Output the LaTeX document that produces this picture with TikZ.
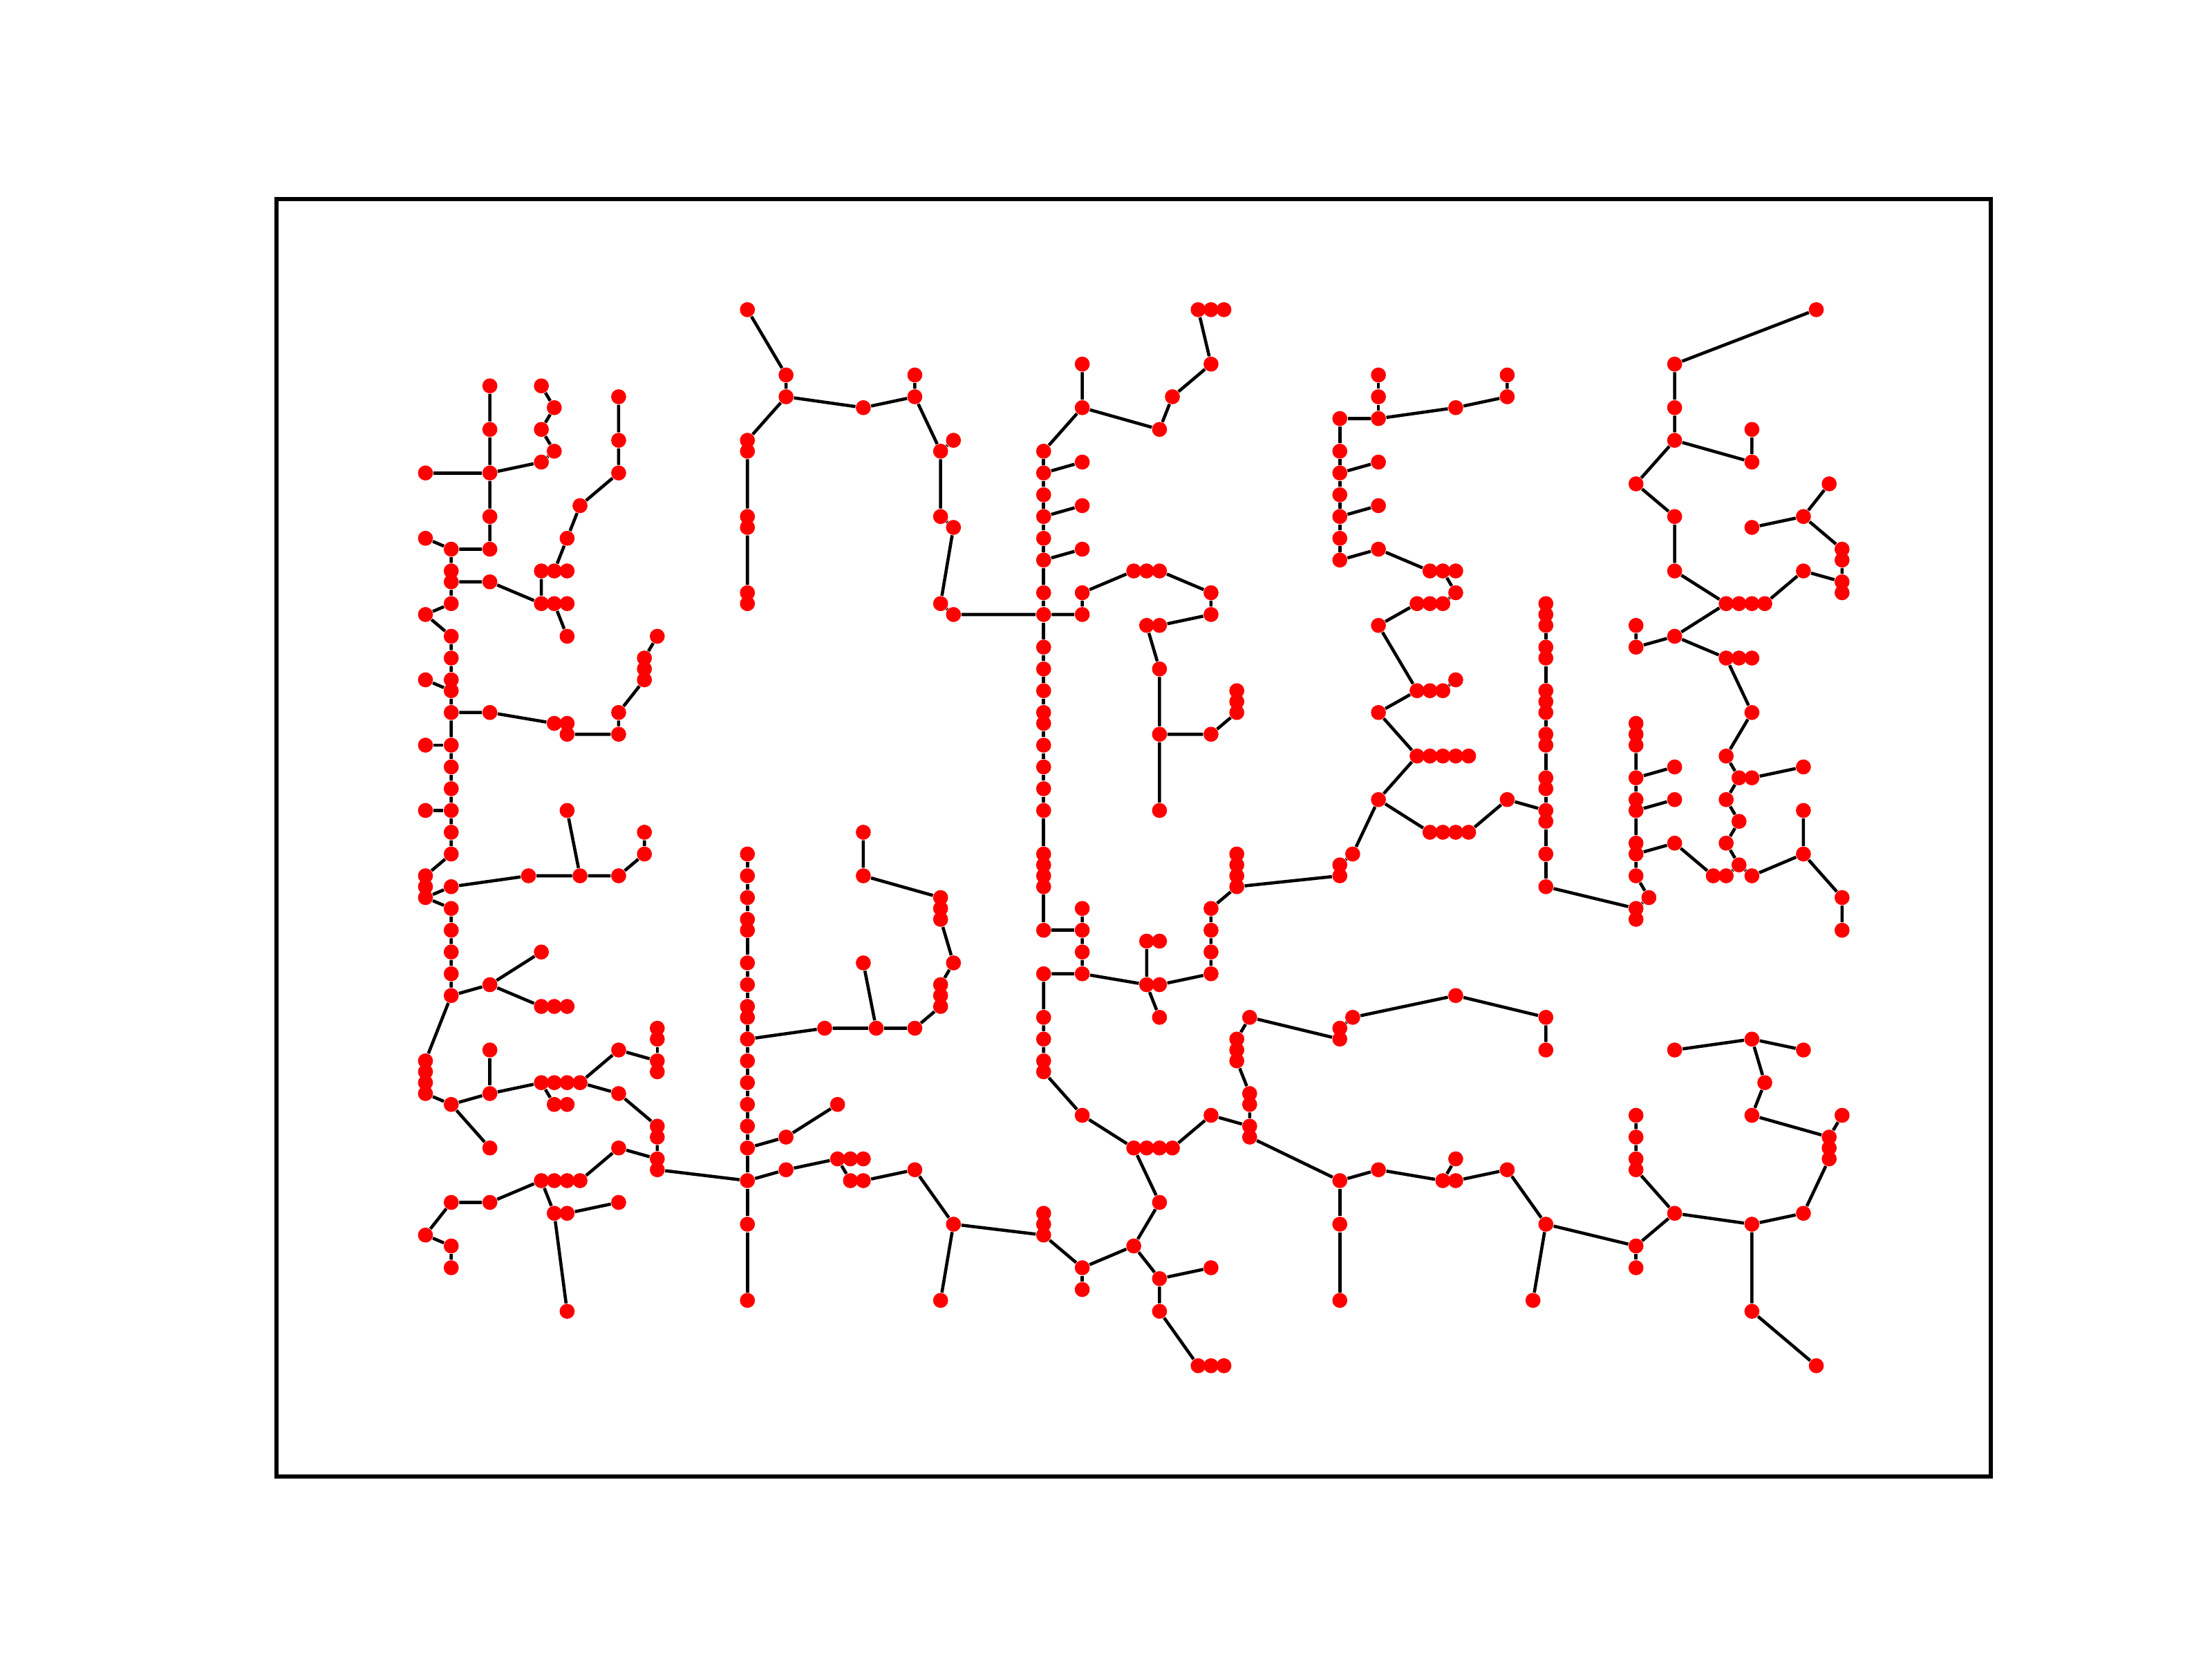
\documentclass[tikz,border=0pt]{standalone}
\usetikzlibrary{backgrounds}

\begin{document}
\begin{tikzpicture}[
    dot/.style={circle, fill=red, inner sep=0pt, minimum size=2.17mm},
    link/.style={line width=1.3pt, black},
    frame/.style={line width=1.6pt, black}
  ]
  \useasboundingbox (0,0) rectangle (32,-24);
  \draw[frame] (4,-2.88) rectangle (28.8,-21.36);

  \begin{scope}[shift={(6.155,-4.48)}, x=1.863mm, y=-1.575mm]
    % NODES (lattice column/row)
    % upper left
    \foreach \i/\j in {5/7,5/11,5/15,0/15,5/19,5/22,2/22,0/21,2/24,2/25,5/25,2/27,0/28,2/30,
        9/7,10/9,9/11,10/13,9/14,15/8,15/12,15/15,12/18,11/21,9/24,10/24,11/24,
        9/27,10/27,11/27,11/30,18/30,17/32,17/33,17/34}
      \node[dot] (p\i-\j) at (\i,\j) {};
    % middle left
    \foreach \i/\j in {2/32,0/34,2/34,2/35,2/37,5/37,10/38,11/38,11/39,15/39,15/37,0/40,2/40,
        2/42,2/44,0/46,2/46,2/48,2/50,0/52,0/53,0/54,2/53,8/52,12/52,11/46,15/52,17/50,17/48,
        2/55,2/57,2/59,2/61,2/63,5/62,9/59,9/64,10/64,11/64}
      \node[dot] (p\i-\j) at (\i,\j) {};
    % lower left
    \foreach \i/\j in {0/69,0/70,0/71,0/72,2/73,5/72,5/68,5/77,9/71,10/71,11/71,12/71,10/73,
        11/73,15/68,18/66,18/67,18/69,18/70,15/72,18/75,18/76,15/77,18/78,18/79,9/80,10/80,
        11/80,12/80,2/82,5/82,0/85,2/86,2/88,10/83,11/83,15/82,11/92}
      \node[dot] (p\i-\j) at (\i,\j) {};
    % column 25
    \foreach \j in {0,12,13,19,20,26,27,50,52,54,56,57,60,62,64,65,67,69,71,73,75,77,80,84,91}
      \node[dot] (p25-\j) at (25,\j) {};
    % column 48
    \foreach \j in {13,15,17,19,21,23,26,28,31,33,35,37,38,40,42,44,46,50,51,52,53,57,61,65,
        67,69,70,83,84,85}
      \node[dot] (p48-\j) at (48,\j) {};
    % upper centre
    \foreach \i/\j in {28/6,28/8,34/9,38/6,38/8,40/13,41/12,40/19,41/20,40/27,41/28,
        51/5,51/9,51/14,51/18,51/22,51/26,51/28,55/24,56/24,57/24,61/26,61/28,56/29,57/29,
        57/11,58/8,61/5,60/0,61/0,62/0}
      \node[dot] (p\i-\j) at (\i,\j) {};
    % centre
    \foreach \i/\j in {34/48,34/52,40/54,40/55,40/56,41/60,40/62,40/63,40/64,34/60,31/66,35/66,
        38/66,51/55,51/57,51/59,51/61,56/58,57/58,56/62,57/62,57/65,
        57/33,57/39,57/46,61/39,63/35,63/36,63/37,63/50,63/51,63/52,63/53,61/55,61/57,61/59,
        61/61,71/51,71/52,72/50,74/45,78/48,79/48,80/48,81/48,84/45,74/37,77/35,78/35,79/35,
        80/34,77/41,78/41,79/41,80/41,81/41}
      \node[dot] (p\i-\j) at (\i,\j) {};
    % lower centre
    \foreach \i/\j in {28/76,28/79,32/73,32/78,33/78,34/78,33/80,34/80,38/79,41/84,40/91,51/74,
        51/88,51/90,55/86,55/77,56/77,57/77,58/77,57/82,57/89,61/88,57/92,60/97,61/97,62/97,
        61/74,63/67,63/68,63/69,64/65,64/72,64/73,64/75,64/76,71/80,74/79,79/80,80/80,80/78,
        71/84,71/91,71/66,71/67,72/65,80/63}
      \node[dot] (p\i-\j) at (\i,\j) {};
    % upper right
    \foreach \i/\j in {71/10,74/10,74/8,74/6,80/9,84/8,84/6,71/13,71/15,71/17,71/19,71/21,71/23,
        74/14,74/18,74/22,78/24,79/24,80/24,80/26,77/27,78/27,79/27,74/29,
        108/0,97/5,97/9,97/12,103/11,103/14,94/16,97/19,97/24,101/27,102/27,103/27,104/27,
        107/24,109/16,107/19,103/20,110/22,110/23,110/25,110/26,94/29,94/31,97/30,101/32,
        102/32,103/32}
      \node[dot] (p\i-\j) at (\i,\j) {};
    % column 87
    \foreach \j in {27,28,29,31,32,35,36,37,39,40,43,44,46,47,50,53,65,68}
      \node[dot] (p87-\j) at (87,\j) {};
    % right
    \foreach \i/\j in {94/38,94/39,94/40,94/43,97/42,94/45,94/46,97/45,94/49,94/50,97/49,94/52,
        95/54,94/55,94/56,103/37,101/41,102/43,103/43,107/42,101/45,102/47,101/49,102/51,
        100/52,101/52,103/52,107/50,107/46,110/54,110/57,
        84/79,87/84,86/91,94/74,94/76,94/78,94/79,94/86,94/88,97/83,103/84,103/92,108/97,
        107/83,109/76,109/77,109/78,110/74,103/74,104/71,103/67,97/68,107/68}
      \node[dot] (p\i-\j) at (\i,\j) {};

    % EDGES
    \begin{pgfonlayer}{background}
      % left trees
      \draw[link] (p9-7) -- (p10-9) -- (p9-11) -- (p10-13) -- (p9-14) -- (p5-15);
      \draw[link] (p5-7) -- (p5-11) -- (p5-15) -- (p5-19) -- (p5-22) -- (p2-22) -- (p0-21);
      \draw[link] (p0-15) -- (p5-15);
      \draw[link] (p2-22) -- (p2-24) -- (p2-25) -- (p2-27) -- (p0-28) -- (p2-30) -- (p2-32)
        -- (p2-34) -- (p2-35) -- (p2-37) -- (p2-40) -- (p2-42) -- (p2-44) -- (p2-46) -- (p2-48)
        -- (p2-50) -- (p0-52) -- (p0-53) -- (p0-54) -- (p2-55) -- (p2-57) -- (p2-59) -- (p2-61)
        -- (p2-63) -- (p0-69) -- (p0-70) -- (p0-71) -- (p0-72) -- (p2-73) -- (p5-77);
      \draw[link] (p2-25) -- (p5-25) -- (p9-27) -- (p9-24) -- (p10-24) -- (p11-24);
      \draw[link] (p9-27) -- (p10-27) -- (p11-27);
      \draw[link] (p10-27) -- (p11-30);
      \draw[link] (p10-24) -- (p11-21);
      \draw[link] (p15-8) -- (p15-12) -- (p15-15) -- (p12-18) -- (p11-21);
      \draw[link] (p0-34) -- (p2-35);
      \draw[link] (p2-37) -- (p5-37) -- (p10-38) -- (p11-38) -- (p11-39) -- (p15-39) -- (p15-37)
        -- (p17-34) -- (p17-33) -- (p17-32) -- (p18-30);
      \draw[link] (p0-40) -- (p2-40);
      \draw[link] (p0-46) -- (p2-46);
      \draw[link] (p0-54) -- (p2-53) -- (p8-52) -- (p12-52) -- (p15-52) -- (p17-50) -- (p17-48);
      \draw[link] (p12-52) -- (p11-46);
      \draw[link] (p2-63) -- (p5-62) -- (p9-59);
      \draw[link] (p5-62) -- (p9-64) -- (p10-64) -- (p11-64);
      \draw[link] (p2-73) -- (p5-72) -- (p9-71) -- (p10-71) -- (p11-71) -- (p12-71);
      \draw[link] (p5-72) -- (p5-68);
      \draw[link] (p9-71) -- (p10-73) -- (p11-73);
      \draw[link] (p12-71) -- (p15-68) -- (p18-69);
      \draw[link] (p18-66) -- (p18-67) -- (p18-69) -- (p18-70);
      \draw[link] (p12-71) -- (p15-72) -- (p18-75) -- (p18-76) -- (p18-78) -- (p18-79) -- (p25-80);
      \draw[link] (p12-80) -- (p15-77) -- (p18-78);
      \draw[link] (p9-80) -- (p10-80) -- (p11-80) -- (p12-80);
      \draw[link] (p9-80) -- (p5-82) -- (p2-82) -- (p0-85) -- (p2-86) -- (p2-88);
      \draw[link] (p9-80) -- (p10-83) -- (p11-83) -- (p15-82);
      \draw[link] (p10-83) -- (p11-92);
      % upper centre
      \draw[link] (p25-0) -- (p28-6) -- (p28-8) -- (p25-12) -- (p25-13) -- (p25-19) -- (p25-20)
        -- (p25-26) -- (p25-27);
      \draw[link] (p28-8) -- (p34-9) -- (p38-8) -- (p38-6);
      \draw[link] (p38-8) -- (p40-13) -- (p41-12);
      \draw[link] (p40-13) -- (p40-19) -- (p41-20) -- (p40-27) -- (p41-28) -- (p48-28) -- (p51-28)
        -- (p51-26) -- (p55-24) -- (p56-24) -- (p57-24) -- (p61-26) -- (p61-28) -- (p57-29)
        -- (p56-29) -- (p57-33) -- (p57-39) -- (p57-46);
      \draw[link] (p57-39) -- (p61-39) -- (p63-37) -- (p63-36) -- (p63-35);
      \draw[link] (p48-13) -- (p48-15) -- (p48-17) -- (p48-19) -- (p48-21) -- (p48-23) -- (p48-26)
        -- (p48-28) -- (p48-31) -- (p48-33) -- (p48-35) -- (p48-37) -- (p48-38) -- (p48-40)
        -- (p48-42) -- (p48-44) -- (p48-46) -- (p48-50) -- (p48-51) -- (p48-52) -- (p48-53)
        -- (p48-57) -- (p51-57);
      \draw[link] (p48-15) -- (p51-14);
      \draw[link] (p48-19) -- (p51-18);
      \draw[link] (p48-23) -- (p51-22);
      \draw[link] (p48-13) -- (p51-9) -- (p51-5);
      \draw[link] (p51-9) -- (p57-11) -- (p58-8) -- (p61-5) -- (p60-0) -- (p61-0) -- (p62-0);
      % centre
      \draw[link] (p51-55) -- (p51-57) -- (p51-59) -- (p51-61) -- (p48-61) -- (p48-65) -- (p48-67)
        -- (p48-69) -- (p48-70) -- (p51-74) -- (p55-77) -- (p56-77) -- (p57-77) -- (p58-77)
        -- (p61-74) -- (p64-75);
      \draw[link] (p51-61) -- (p56-62) -- (p56-58) -- (p57-58);
      \draw[link] (p56-62) -- (p57-62) -- (p61-61) -- (p61-59) -- (p61-57) -- (p61-55) -- (p63-53)
        -- (p63-52) -- (p63-51) -- (p63-50);
      \draw[link] (p63-53) -- (p71-52) -- (p71-51) -- (p72-50) -- (p74-45) -- (p78-48) -- (p79-48)
        -- (p80-48) -- (p81-48) -- (p84-45) -- (p87-46);
      \draw[link] (p56-62) -- (p57-65);
      \draw[link] (p74-45) -- (p77-41) -- (p78-41) -- (p79-41) -- (p80-41) -- (p81-41);
      \draw[link] (p77-41) -- (p74-37) -- (p77-35) -- (p78-35) -- (p79-35) -- (p80-34);
      \draw[link] (p77-35) -- (p74-29) -- (p77-27) -- (p78-27) -- (p79-27) -- (p80-26) -- (p79-24)
        -- (p78-24) -- (p74-22) -- (p71-23);
      \draw[link] (p79-24) -- (p80-24);
      \draw[link] (p71-10) -- (p71-13) -- (p71-15) -- (p71-17) -- (p71-19) -- (p71-21) -- (p71-23);
      \draw[link] (p71-15) -- (p74-14);
      \draw[link] (p71-19) -- (p74-18);
      \draw[link] (p71-10) -- (p74-10) -- (p74-8) -- (p74-6);
      \draw[link] (p74-10) -- (p80-9) -- (p84-8) -- (p84-6);
      % lower centre
      \draw[link] (p55-77) -- (p57-82) -- (p55-86) -- (p57-89) -- (p61-88);
      \draw[link] (p57-89) -- (p57-92) -- (p60-97) -- (p61-97) -- (p62-97);
      \draw[link] (p25-50) -- (p25-52) -- (p25-54) -- (p25-56) -- (p25-57) -- (p25-60) -- (p25-62)
        -- (p25-64) -- (p25-65) -- (p25-67) -- (p25-69) -- (p25-71) -- (p25-73) -- (p25-75)
        -- (p25-77) -- (p25-80) -- (p25-84) -- (p25-91);
      \draw[link] (p25-67) -- (p31-66) -- (p35-66) -- (p38-66) -- (p40-64) -- (p40-63) -- (p40-62)
        -- (p41-60) -- (p40-56) -- (p40-55) -- (p40-54) -- (p34-52) -- (p34-48);
      \draw[link] (p35-66) -- (p34-60);
      \draw[link] (p25-77) -- (p28-76) -- (p32-73);
      \draw[link] (p25-80) -- (p28-79) -- (p32-78) -- (p33-78) -- (p34-78);
      \draw[link] (p32-78) -- (p33-80) -- (p34-80) -- (p38-79) -- (p41-84) -- (p40-91);
      \draw[link] (p41-84) -- (p48-85) -- (p48-84) -- (p48-83);
      \draw[link] (p48-85) -- (p51-88) -- (p55-86);
      \draw[link] (p51-88) -- (p51-90);
      % lower right
      \draw[link] (p64-65) -- (p63-67) -- (p63-68) -- (p63-69) -- (p64-72) -- (p64-73) -- (p64-75)
        -- (p64-76) -- (p71-80) -- (p74-79) -- (p79-80) -- (p80-80) -- (p84-79) -- (p87-84)
        -- (p94-86) -- (p97-83) -- (p103-84) -- (p107-83) -- (p109-78) -- (p109-77) -- (p109-76)
        -- (p103-74) -- (p104-71) -- (p103-67) -- (p97-68);
      \draw[link] (p103-67) -- (p107-68);
      \draw[link] (p109-76) -- (p110-74);
      \draw[link] (p79-80) -- (p80-78);
      \draw[link] (p71-80) -- (p71-84) -- (p71-91);
      \draw[link] (p87-84) -- (p86-91);
      \draw[link] (p94-86) -- (p94-88);
      \draw[link] (p103-84) -- (p103-92) -- (p108-97);
      \draw[link] (p94-74) -- (p94-76) -- (p94-78) -- (p94-79) -- (p97-83);
      \draw[link] (p64-65) -- (p71-67) -- (p71-66) -- (p72-65) -- (p80-63) -- (p87-65) -- (p87-68);
      % upper right
      \draw[link] (p108-0) -- (p97-5) -- (p97-9) -- (p97-12) -- (p103-14) -- (p103-11);
      \draw[link] (p97-12) -- (p94-16) -- (p97-19) -- (p97-24) -- (p101-27) -- (p102-27) -- (p103-27)
        -- (p104-27) -- (p107-24) -- (p110-25) -- (p110-26);
      \draw[link] (p110-25) -- (p110-23) -- (p110-22) -- (p107-19) -- (p109-16);
      \draw[link] (p107-19) -- (p103-20);
      \draw[link] (p101-27) -- (p97-30) -- (p94-31) -- (p94-29);
      \draw[link] (p97-30) -- (p101-32) -- (p102-32) -- (p103-32);
      \draw[link] (p101-32) -- (p103-37) -- (p101-41) -- (p102-43) -- (p103-43) -- (p107-42);
      \draw[link] (p102-43) -- (p101-45) -- (p102-47) -- (p101-49) -- (p102-51) -- (p103-52)
        -- (p107-50) -- (p107-46);
      \draw[link] (p107-50) -- (p110-54) -- (p110-57);
      \draw[link] (p102-51) -- (p101-52) -- (p100-52) -- (p97-49) -- (p94-50);
      \draw[link] (p94-38) -- (p94-39) -- (p94-40) -- (p94-43) -- (p94-45) -- (p94-46) -- (p94-49)
        -- (p94-50) -- (p94-52) -- (p95-54) -- (p94-55) -- (p94-56);
      \draw[link] (p94-43) -- (p97-42);
      \draw[link] (p94-46) -- (p97-45);
      \draw[link] (p94-55) -- (p87-53);
      \draw[link] (p87-27) -- (p87-28) -- (p87-29) -- (p87-31) -- (p87-32) -- (p87-35) -- (p87-36)
        -- (p87-37) -- (p87-39) -- (p87-40) -- (p87-43) -- (p87-44) -- (p87-46) -- (p87-47)
        -- (p87-50) -- (p87-53);
    \end{pgfonlayer}
  \end{scope}
\end{tikzpicture}
\end{document}
